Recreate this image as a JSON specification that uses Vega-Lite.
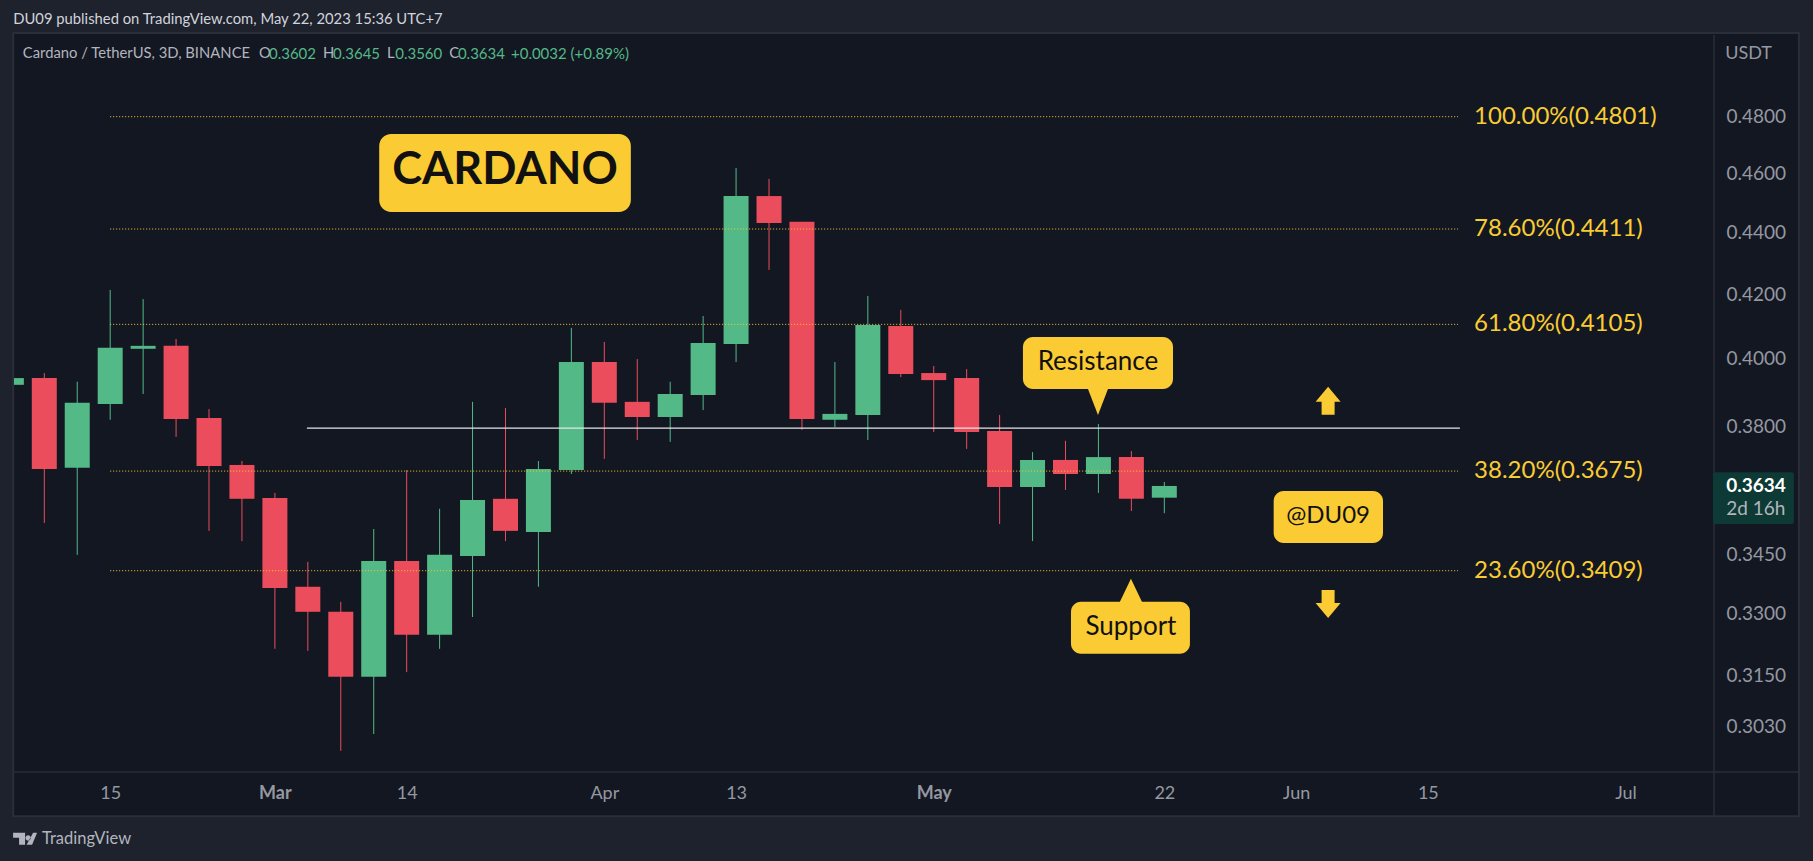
{
"$schema":"https://vega.github.io/schema/vega-lite/v6.json",
"autosize":{"type":"none"},
"padding":{"left":14,"top":35,"right":99,"bottom":89},
"width":1700,"height":737,
"background":"#1e222d",
"config":{"view":{"stroke":null},"font":"Lato","text":{"font":"Lato"}},
"datasets":{"candles":[
{"date":"2023-02-06","open":0.3922,"high":0.3950,"low":0.3900,"close":0.3942,"dir":"up"},
{"date":"2023-02-09","open":0.3942,"high":0.3957,"low":0.3534,"close":0.3681,"dir":"down"},
{"date":"2023-02-12","open":0.3684,"high":0.3931,"low":0.3450,"close":0.3869,"dir":"up"},
{"date":"2023-02-15","open":0.3866,"high":0.4213,"low":0.3820,"close":0.4033,"dir":"up"},
{"date":"2023-02-18","open":0.4030,"high":0.4184,"low":0.3895,"close":0.4039,"dir":"up"},
{"date":"2023-02-21","open":0.4039,"high":0.4060,"low":0.3771,"close":0.3822,"dir":"down"},
{"date":"2023-02-24","open":0.3825,"high":0.3851,"low":0.3513,"close":0.3689,"dir":"down"},
{"date":"2023-02-27","open":0.3692,"high":0.3703,"low":0.3486,"close":0.3599,"dir":"down"},
{"date":"2023-03-02","open":0.3601,"high":0.3615,"low":0.3214,"close":0.3365,"dir":"down"},
{"date":"2023-03-05","open":0.3368,"high":0.3432,"low":0.3209,"close":0.3305,"dir":"down"},
{"date":"2023-03-08","open":0.3305,"high":0.3330,"low":0.2976,"close":0.3147,"dir":"down"},
{"date":"2023-03-11","open":0.3147,"high":0.3518,"low":0.3014,"close":0.3434,"dir":"up"},
{"date":"2023-03-14","open":0.3434,"high":0.3678,"low":0.3158,"close":0.3248,"dir":"down"},
{"date":"2023-03-17","open":0.3248,"high":0.3572,"low":0.3214,"close":0.3450,"dir":"up"},
{"date":"2023-03-20","open":0.3447,"high":0.3872,"low":0.3292,"close":0.3596,"dir":"up"},
{"date":"2023-03-23","open":0.3599,"high":0.3854,"low":0.3486,"close":0.3513,"dir":"down"},
{"date":"2023-03-26","open":0.3510,"high":0.3703,"low":0.3368,"close":0.3681,"dir":"up"},
{"date":"2023-03-29","open":0.3678,"high":0.4094,"low":0.3667,"close":0.3990,"dir":"up"},
{"date":"2023-04-01","open":0.3990,"high":0.4051,"low":0.3709,"close":0.3869,"dir":"down"},
{"date":"2023-04-04","open":0.3872,"high":0.3999,"low":0.3762,"close":0.3828,"dir":"down"},
{"date":"2023-04-07","open":0.3828,"high":0.3931,"low":0.3757,"close":0.3895,"dir":"up"},
{"date":"2023-04-10","open":0.3892,"high":0.4131,"low":0.3848,"close":0.4048,"dir":"up"},
{"date":"2023-04-13","open":0.4045,"high":0.4619,"low":0.3990,"close":0.4522,"dir":"up"},
{"date":"2023-04-16","open":0.4522,"high":0.4581,"low":0.4277,"close":0.4431,"dir":"down"},
{"date":"2023-04-19","open":0.4435,"high":0.4435,"low":0.3791,"close":0.3822,"dir":"down"},
{"date":"2023-04-22","open":0.3820,"high":0.3990,"low":0.3799,"close":0.3837,"dir":"up"},
{"date":"2023-04-25","open":0.3834,"high":0.4194,"low":0.3762,"close":0.4103,"dir":"up"},
{"date":"2023-04-28","open":0.4100,"high":0.4150,"low":0.3945,"close":0.3954,"dir":"down"},
{"date":"2023-05-01","open":0.3957,"high":0.3978,"low":0.3785,"close":0.3936,"dir":"down"},
{"date":"2023-05-04","open":0.3942,"high":0.3969,"low":0.3737,"close":0.3785,"dir":"down"},
{"date":"2023-05-07","open":0.3788,"high":0.3834,"low":0.3531,"close":0.3631,"dir":"down"},
{"date":"2023-05-10","open":0.3631,"high":0.3728,"low":0.3486,"close":0.3706,"dir":"up"},
{"date":"2023-05-13","open":0.3706,"high":0.3760,"low":0.3623,"close":0.3667,"dir":"down"},
{"date":"2023-05-16","open":0.3667,"high":0.3808,"low":0.3615,"close":0.3714,"dir":"up"},
{"date":"2023-05-19","open":0.3714,"high":0.3731,"low":0.3566,"close":0.3599,"dir":"down"},
{"date":"2023-05-22","open":0.3602,"high":0.3645,"low":0.3560,"close":0.3634,"dir":"up"}
]},
"encoding":{
"x":{"field":"date","type":"temporal","title":null,
"scale":{"type":"utc","domain":["2023-02-06T05:46:00Z","2023-07-11T01:26:00Z"],"nice":false,"padding":0},
"axis":{"values":["2023-02-15T00:00:00Z","2023-03-02T00:00:00Z","2023-03-14T00:00:00Z","2023-04-01T00:00:00Z","2023-04-13T00:00:00Z","2023-05-01T00:00:00Z","2023-05-22T00:00:00Z","2023-06-03T00:00:00Z","2023-06-15T00:00:00Z","2023-07-03T00:00:00Z"],
"labelExpr":"utcdate(datum.value)<=3 ? utcFormat(datum.value,'%b') : utcFormat(datum.value,'%-d')",
"grid":false,"domain":false,"ticks":false,"labelColor":"#9598a1","labelFontSize":18,"labelPadding":12,"labelFlush":false,"labelOverlap":false,"labelBound":false,"zindex":1,
"labelFontWeight":{"condition":{"test":"utcmonth(datum.value)==2&&utcdate(datum.value)<=3||utcmonth(datum.value)==4&&utcdate(datum.value)<=3","value":"bold"},"value":"normal"}}},
"y":{"field":"price","type":"quantitative","title":null,
"scale":{"type":"log","domain":[0.29289,0.5106],"nice":false,"zero":false},
"axis":{"orient":"right","values":[0.303,0.315,0.33,0.345,0.38,0.4,0.42,0.44,0.46,0.48],"format":".4f","grid":false,"domain":false,"ticks":false,"labelColor":"#9598a1","labelFontSize":19,"labelPadding":12,"labelFlush":false,"labelOverlap":false,"labelBound":false,"zindex":1}}
},
"layer":[
{"data":{"values":[{"date":"2023-02-06T04:00:00Z","date2":"2023-07-18T19:00:00Z","price":0.5114,"price2":0.2833}],"format":{"parse":{"date":"date","date2":"date"}}},
 "mark":{"type":"rect","fill":"#131722","stroke":"#2a2e39","strokeWidth":2},
 "encoding":{"x2":{"field":"date2"},"y2":{"field":"price2"}}},
{"data":{"values":[{"date":"2023-07-11T01:26:00Z","price":0.5106,"price2":0.2833}]},
 "mark":{"type":"rule","stroke":"#2a2e39","strokeWidth":1.5},
 "encoding":{"y2":{"field":"price2"}}},
{"data":{"values":[{"date":"2023-02-06T05:46:00Z","date2":"2023-07-18T19:00:00Z","price":0.2929}],"format":{"parse":{"date":"date","date2":"date"}}},
 "mark":{"type":"rule","stroke":"#2a2e39","strokeWidth":1.5},
 "encoding":{"x2":{"field":"date2"}}},
{"data":{"name":"candles"},
 "mark":{"type":"rule","strokeWidth":1,"clip":true},
 "encoding":{"y":{"field":"low","type":"quantitative","title":null,"scale":{"type":"log","domain":[0.29289,0.5106],"nice":false,"zero":false},"axis":{"orient":"right","values":[0.303,0.315,0.33,0.345,0.38,0.4,0.42,0.44,0.46,0.48],"format":".4f","grid":false,"domain":false,"ticks":false,"labelColor":"#9598a1","labelFontSize":19,"labelPadding":12,"labelFlush":false,"labelOverlap":false,"labelBound":false,"zindex":1}},"y2":{"field":"high"},
 "color":{"field":"dir","type":"nominal","legend":null,"scale":{"domain":["up","down"],"range":["#53b987","#eb4d5c"]}}}},
{"data":{"name":"candles"},
 "mark":{"type":"bar","width":25,"clip":true},
 "encoding":{"y":{"field":"open","type":"quantitative","title":null,"scale":{"type":"log","domain":[0.29289,0.5106],"nice":false,"zero":false},"axis":{"orient":"right","values":[0.303,0.315,0.33,0.345,0.38,0.4,0.42,0.44,0.46,0.48],"format":".4f","grid":false,"domain":false,"ticks":false,"labelColor":"#9598a1","labelFontSize":19,"labelPadding":12,"labelFlush":false,"labelOverlap":false,"labelBound":false,"zindex":1}},"y2":{"field":"close"},
 "color":{"field":"dir","type":"nominal","legend":null,"scale":{"domain":["up","down"],"range":["#53b987","#eb4d5c"]}}}},
{"data":{"values":[
 {"date":"2023-02-15T00:00:00Z","date2":"2023-06-17T18:00:00Z","price":0.4801},
 {"date":"2023-02-15T00:00:00Z","date2":"2023-06-17T18:00:00Z","price":0.4411},
 {"date":"2023-02-15T00:00:00Z","date2":"2023-06-17T18:00:00Z","price":0.4105},
 {"date":"2023-02-15T00:00:00Z","date2":"2023-06-17T18:00:00Z","price":0.3675},
 {"date":"2023-02-15T00:00:00Z","date2":"2023-06-17T18:00:00Z","price":0.3409}],"format":{"parse":{"date":"date","date2":"date"}}},
 "mark":{"type":"rule","stroke":"#f9cc33","strokeWidth":1,"strokeDash":[1,2]},
 "encoding":{"x2":{"field":"date2"}}},
{"data":{"values":[{"date":"2023-03-04T22:00:00Z","date2":"2023-06-17T22:00:00Z","price":0.3796}],"format":{"parse":{"date":"date","date2":"date"}}},
 "mark":{"type":"rule","stroke":"#e4e6ec","strokeWidth":1.3},
 "encoding":{"x2":{"field":"date2"}}},
{"data":{"values":[
 {"date":"2023-03-11T12:00:00Z","date2":"2023-04-03T10:00:00Z","price":0.4739,"price2":0.4468}],"format":{"parse":{"date":"date","date2":"date"}}},
 "mark":{"type":"rect","fill":"#fbcb33","cornerRadius":12},
 "encoding":{"x2":{"field":"date2"},"y2":{"field":"price2"}}},
{"data":{"values":[
 {"date":"2023-05-09T03:00:00Z","date2":"2023-05-22T19:00:00Z","price":0.4066,"price2":0.3910},
 {"date":"2023-05-13T12:00:00Z","date2":"2023-05-24T08:00:00Z","price":0.3330,"price2":0.3202},
 {"date":"2023-05-31T23:00:00Z","date2":"2023-06-10T22:00:00Z","price":0.3620,"price2":0.3481}],"format":{"parse":{"date":"date","date2":"date"}}},
 "mark":{"type":"rect","fill":"#fbcb33","cornerRadius":10},
 "encoding":{"x2":{"field":"date2"},"y2":{"field":"price2"}}},
{"data":{"values":[{"date":"2023-05-15T23:00:00Z","price":0.3910}]},
 "mark":{"type":"point","filled":true,"size":4,"opacity":1,"fill":"#fbcb33","strokeWidth":0,"shape":"M-10,-2L10,-2L10,0L0,26L-10,0Z"}},
{"data":{"values":[{"date":"2023-05-18T23:00:00Z","price":0.3330}]},
 "mark":{"type":"point","filled":true,"size":4,"opacity":1,"fill":"#fbcb33","strokeWidth":0,"shape":"M-11,2L-11,0L0,-23L11,0L11,2Z"}},
{"data":{"values":[{"date":"2023-06-05T22:00:00Z","price":0.3872}]},
 "mark":{"type":"point","filled":true,"size":4,"opacity":1,"fill":"#fbcb33","strokeWidth":0,"shape":"M0,-15L12.5,0L6.5,0L6.5,13L-6.5,13L-6.5,0L-12.5,0Z"}},
{"data":{"values":[{"date":"2023-06-05T22:00:00Z","price":0.3327}]},
 "mark":{"type":"point","filled":true,"size":4,"opacity":1,"fill":"#fbcb33","strokeWidth":0,"shape":"M-6.5,-13L6.5,-13L6.5,0L12.5,0L0,15L-12.5,0L-6.5,0Z"}},
{"data":{"values":[{"date":"2023-02-07T06:00:00Z","price":0.2785}]},
 "mark":{"type":"point","filled":true,"size":4,"opacity":1,"fill":"#b2b5be","strokeWidth":0,"shape":"M-12,-6H0V6H-6V-1H-12ZM3,-3.5a2.6,2.6 0 1,0 0.01,0ZM8,-6H12L7,6H1.5Z"}},
{"data":{"values":[{"date":"2023-07-10T23:00:00Z","date2":"2023-07-18T08:00:00Z","price":0.3672,"price2":0.3531}],"format":{"parse":{"date":"date","date2":"date"}}},
 "mark":{"type":"rect","fill":"#0d3a34","cornerRadius":2},
 "encoding":{"x2":{"field":"date2"},"y2":{"field":"price2"}}},
{"data":{"values":[
 {"date":"2023-03-22T23:00:00Z","price":0.4612,"label":"CARDANO"}]},
 "mark":{"type":"text","align":"center","baseline":"middle","font":"Lato","fontSize":45,"fontWeight":"bold","fill":"#111111"},
 "encoding":{"text":{"field":"label"}}},
{"data":{"values":[
 {"date":"2023-05-15T23:00:00Z","price":0.3990,"label":"Resistance"},
 {"date":"2023-05-18T23:00:00Z","price":0.3267,"label":"Support"}]},
 "mark":{"type":"text","align":"center","baseline":"middle","font":"Lato","fontSize":26,"fill":"#111111"},
 "encoding":{"text":{"field":"label"}}},
{"data":{"values":[
 {"date":"2023-06-05T22:00:00Z","price":0.3553,"label":"@DU09"}]},
 "mark":{"type":"text","align":"center","baseline":"middle","font":"Lato","fontSize":24,"fill":"#111111"},
 "encoding":{"text":{"field":"label"}}},
{"data":{"values":[
 {"date":"2023-06-19T05:00:00Z","price":0.4801,"label":"100.00%(0.4801)"},
 {"date":"2023-06-19T05:00:00Z","price":0.4411,"label":"78.60%(0.4411)"},
 {"date":"2023-06-19T05:00:00Z","price":0.4105,"label":"61.80%(0.4105)"},
 {"date":"2023-06-19T05:00:00Z","price":0.3675,"label":"38.20%(0.3675)"},
 {"date":"2023-06-19T05:00:00Z","price":0.3409,"label":"23.60%(0.3409)"}]},
 "mark":{"type":"text","align":"left","baseline":"middle","font":"Lato","fontSize":24,"fill":"#f9cc33"},
 "encoding":{"text":{"field":"label"}}},
{"data":{"values":[
 {"date":"2023-02-06T04:00:00Z","price":0.5164,"label":"DU09 published on TradingView.com, May 22, 2023 15:36 UTC+7"}]},
 "mark":{"type":"text","align":"left","baseline":"middle","font":"Lato","fontSize":14.8,"fill":"#d1d4dc"},
 "encoding":{"text":{"field":"label"}}},
{"data":{"values":[
 {"date":"2023-02-07T01:00:00Z","price":0.5034,"label":"Cardano / TetherUS, 3D, BINANCE"},
 {"date":"2023-02-28T13:00:00Z","price":0.5034,"label":"O"},
 {"date":"2023-03-06T09:00:00Z","price":0.5034,"label":"H"},
 {"date":"2023-03-12T05:00:00Z","price":0.5034,"label":"L"},
 {"date":"2023-03-17T21:00:00Z","price":0.5034,"label":"C"}]},
 "mark":{"type":"text","align":"left","baseline":"middle","font":"Lato","fontSize":14.8,"fill":"#b2b5be"},
 "encoding":{"text":{"field":"label"}}},
{"data":{"values":[
 {"date":"2023-07-12T02:00:00Z","price":0.5034,"label":"USDT"}]},
 "mark":{"type":"text","align":"left","baseline":"middle","font":"Lato","fontSize":18,"fill":"#9598a1"},
 "encoding":{"text":{"field":"label"}}},
{"data":{"values":[
 {"date":"2023-03-01T11:00:00Z","price":0.5034,"label":"0.3602"},
 {"date":"2023-03-07T07:00:00Z","price":0.5034,"label":"0.3645"},
 {"date":"2023-03-12T23:00:00Z","price":0.5034,"label":"0.3560"},
 {"date":"2023-03-18T16:00:00Z","price":0.5034,"label":"0.3634"},
 {"date":"2023-03-23T12:00:00Z","price":0.5034,"label":"+0.0032 (+0.89%)"}]},
 "mark":{"type":"text","align":"left","baseline":"middle","font":"Lato","fontSize":15,"fill":"#53b987"},
 "encoding":{"text":{"field":"label"}}},
{"data":{"values":[{"date":"2023-07-12T04:00:00Z","price":0.3634,"label":"0.3634"}]},
 "mark":{"type":"text","align":"left","baseline":"middle","font":"Lato","fontSize":19,"fontWeight":"bold","fill":"#ffffff"},
 "encoding":{"text":{"field":"label"}}},
{"data":{"values":[{"date":"2023-07-12T04:00:00Z","price":0.3572,"label":"2d 16h"}]},
 "mark":{"type":"text","align":"left","baseline":"middle","font":"Lato","fontSize":19,"fill":"#b2b5be"},
 "encoding":{"text":{"field":"label"}}},
{"data":{"values":[{"date":"2023-02-08T19:00:00Z","price":0.2785,"label":"TradingView"}]},
 "mark":{"type":"text","align":"left","baseline":"middle","font":"Lato","fontSize":16.5,"fill":"#b2b5be"},
 "encoding":{"text":{"field":"label"}}}
]
}
